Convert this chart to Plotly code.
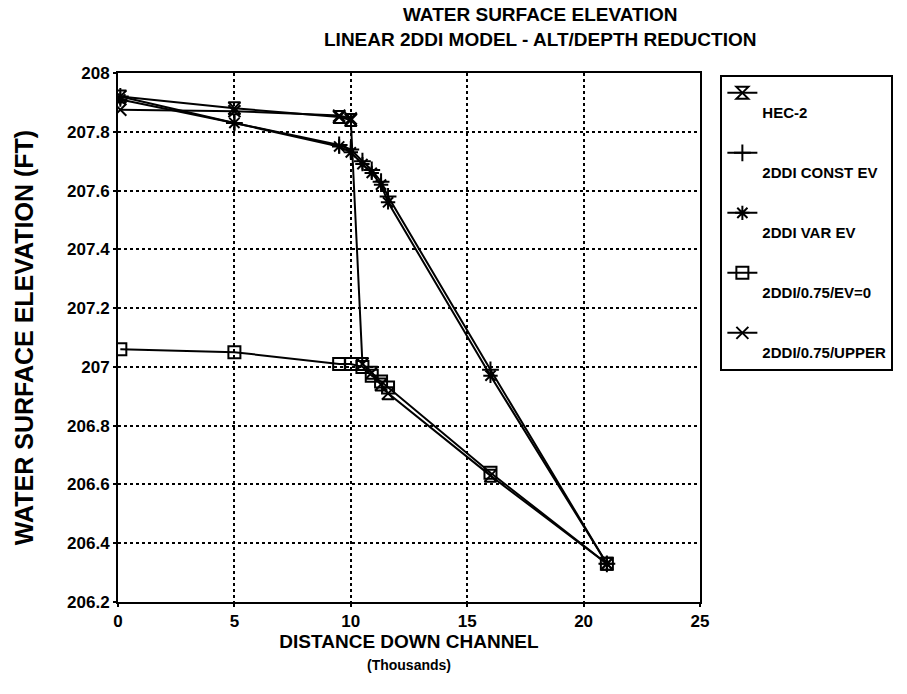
import plotly.graph_objects as go

# Distance down channel (thousands of ft)
x_main = [0.1, 5.0, 9.5, 10.0, 10.5, 10.9, 11.3, 11.6, 16.0, 21.0]
x_upper = [0.1, 5.0, 9.5, 10.0]

hec2 = [207.92, 207.88, 207.85, 207.84, 207.01, 206.98, 206.94, 206.91, 206.63, 206.33]
const_ev = [207.92, 207.83, 207.755, 207.74, 207.70, 207.67, 207.63, 207.58, 206.99, 206.33]
var_ev = [207.91, 207.83, 207.75, 207.73, 207.69, 207.66, 207.62, 207.56, 206.97, 206.33]
ev0 = [207.06, 207.05, 207.01, 207.01, 207.00, 206.97, 206.95, 206.93, 206.64, 206.33]
upper = [207.875, 207.87, 207.855, 207.845]

names = ["HEC-2", "2DDI CONST EV", "2DDI VAR EV", "2DDI/0.75/EV=0", "2DDI/0.75/UPPER"]
symbols = ["hourglass-open", "cross-thin-open", "asterisk-open", "square-open", "x-thin-open"]
xs = [x_main, x_main, x_main, x_main, x_upper]
ys = [hec2, const_ev, var_ev, ev0, upper]

x_ticks = [0, 5, 10, 15, 20, 25]
y_ticks = [206.2, 206.4, 206.6, 206.8, 207, 207.2, 207.4, 207.6, 207.8, 208]
y_ticklabels = ["206.2", "206.4", "206.6", "206.8", "207", "207.2", "207.4", "207.6", "207.8", "208"]

FONT = "Liberation Sans, Arial"

fig = go.Figure()
for i, (x, y, n, s) in enumerate(zip(xs, ys, names, symbols)):
    fig.add_trace(go.Scatter(
        x=x, y=y, name="&nbsp;<br>" + n, mode="lines+markers",
        legendgroup="g%d" % i,
        line=dict(color="black", width=2),
        marker=dict(symbol=s, size=12, color="black", line=dict(color="black", width=2)),
    ))

axis_common = dict(
    showline=True, linecolor="black", linewidth=2, mirror=True,
    showgrid=True, gridcolor="black", griddash="dot", gridwidth=2,
    ticks="outside", ticklen=3, tickwidth=2, tickcolor="black",
    zeroline=False,
    tickfont=dict(family=FONT, size=17, color="black", weight="bold"),
)

fig.update_layout(
    width=907, height=694,
    margin=dict(l=118, r=207, t=73, b=92),
    paper_bgcolor="white", plot_bgcolor="white",
    xaxis=dict(
        range=[0, 25], tickvals=x_ticks, ticktext=[str(v) for v in x_ticks],
        title=dict(text="DISTANCE DOWN CHANNEL",
                   font=dict(family=FONT, size=19, color="black", weight="bold"), standoff=1),
        **axis_common,
    ),
    yaxis=dict(
        range=[206.2, 208], tickvals=y_ticks, ticktext=y_ticklabels,
        title=dict(text="WATER SURFACE ELEVATION (FT)",
                   font=dict(family=FONT, size=25, color="black", weight="bold"), standoff=26),
        **axis_common,
    ),
    legend=dict(
        x=1.035, xanchor="left", y=0.997, yanchor="top",
        bordercolor="black", borderwidth=2, bgcolor="white",
        valign="top", itemwidth=30, tracegroupgap=18,
        font=dict(family=FONT, size=15, color="black", weight="bold"),
    ),
    showlegend=True,
    annotations=[
        dict(
            text="WATER SURFACE ELEVATION<br>LINEAR 2DDI MODEL - ALT/DEPTH REDUCTION",
            xref="paper", yref="paper", x=0.725, y=1.04, xanchor="center", yanchor="bottom",
            showarrow=False, align="center",
            font=dict(family=FONT, size=19, color="black", weight="bold"),
        ),
        dict(
            text="(Thousands)",
            xref="paper", yref="paper", x=0.5, y=-0.119, xanchor="center", yanchor="middle",
            showarrow=False,
            font=dict(family=FONT, size=14, color="black", weight="bold"),
        ),
    ],
)

fig.write_html("out.html")
